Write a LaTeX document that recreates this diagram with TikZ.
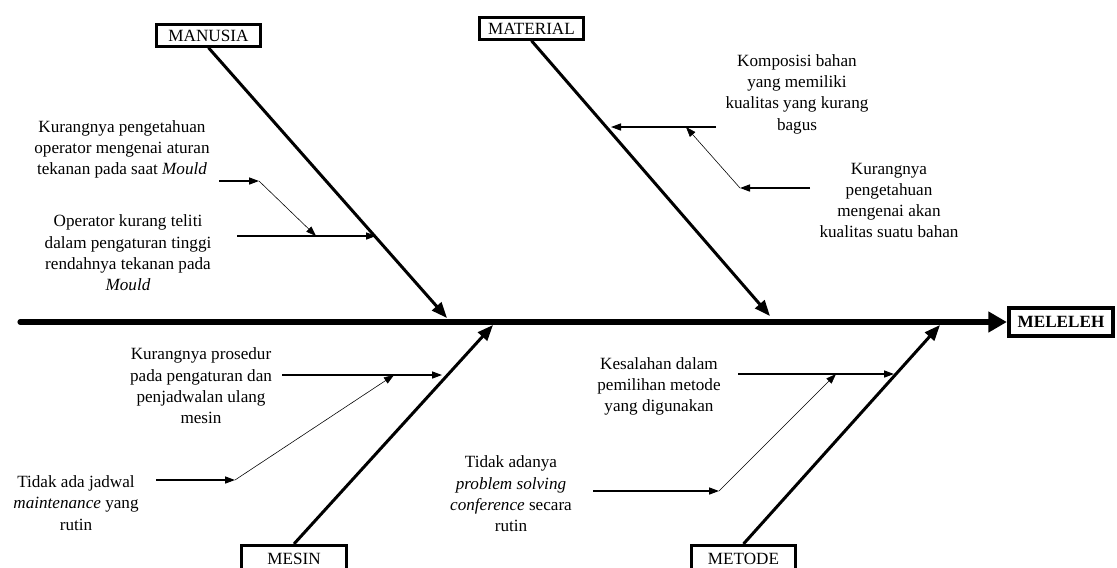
\documentclass[tikz,border=0pt]{standalone}
\usepackage{fontspec}
\setmainfont{Liberation Serif}
\usepackage{tikz}
\usetikzlibrary{positioning,arrows.meta,calc}
\tikzset{
  category/.style = {draw, line width=2.1pt, align=center,
                     minimum width=73pt, minimum height=15pt,
                     font=\fontsize{12}{14}\selectfont, inner sep=0pt},
  lowcat/.style   = {category, minimum height=19pt},
  effect/.style   = {category, line width=2.8pt, minimum height=19pt,
                     font=\fontsize{12}{14}\selectfont\bfseries},
  cause/.style    = {align=center, inner sep=0pt,
                     font=\fontsize{12}{14.9}\selectfont},
  spine/.style    = {line width=3.6pt, line cap=round,
                     -{Triangle[length=13pt,width=14pt]}},
  bone/.style     = {line width=2.1pt, -{Triangle[length=11pt,width=8.5pt]}},
  twig/.style     = {line width=0.75pt, -{Triangle[length=7pt,width=5pt]}},
  subtwig/.style  = {line width=0.4pt, -{Triangle[length=7pt,width=5pt]}}
}

\begin{document}
\begin{tikzpicture}[x=0.7pt, y=-0.7pt]
  \useasboundingbox (0,0) rectangle (1117,567);

  % Head of the fish and the spine.
  \node[effect] (EFF) at (1061,322) {MELELEH};
  \coordinate (TAIL) at (20,322);
  \draw[spine] (TAIL) -- (EFF.west);

  % Category boxes (the lower two run off the bottom edge).
  \node[category] (MAN) at (208.5,35.5) {MANUSIA};
  \node[category] (MAT) at (531.5,28.5) {MATERIAL};
  \node[lowcat]   (MES) at (294,559)    {MESIN};
  \node[lowcat]   (MET) at (743.5,559)  {METODE};

  % Where the bones meet the spine.
  \coordinate (MANtip) at (447,318);
  \coordinate (MATtip) at (770,316);
  \coordinate (MEStip) at (493,325);
  \coordinate (METtip) at (940,325);

  \draw[bone] (MAN.south) -- (MANtip);
  \draw[bone] (MAT.south) -- (MATtip);
  \draw[bone] (MES.north) -- (MEStip);
  \draw[bone] (MET.north) -- (METtip);

  % MANUSIA causes.
  \node[cause] (MAN1) at (122,149.5) {Kurangnya pengetahuan\\operator mengenai aturan\\tekanan pada saat \textit{Mould}};
  \node[cause] (MAN2) at (128,253)   {Operator kurang teliti\\dalam pengaturan tinggi\\rendahnya tekanan pada\\\textit{Mould}};
  \coordinate (MAN1a) at (219,181);
  \coordinate (MAN1b) at (259,181);
  \coordinate (MAN2a) at (237,236);
  \coordinate (MAN2b) at (316,236);
  \coordinate (MAN2c) at (376,236);
  \draw[twig]    (MAN2a) -- (MAN2c);
  \draw[twig]    (MAN1a) -- (MAN1b);
  \draw[subtwig] (MAN1b) -- (MAN2b);

  % MATERIAL causes.
  \node[cause] (MAT1) at (797,94)    {Komposisi bahan\\yang memiliki\\kualitas yang kurang\\bagus};
  \node[cause] (MAT2) at (889,200.5) {Kurangnya\\pengetahuan\\mengenai akan\\kualitas suatu bahan};
  \coordinate (MAT1a) at (716,127);
  \coordinate (MAT1b) at (686,127);
  \coordinate (MAT1c) at (611,127);
  \coordinate (MAT2a) at (810,188);
  \coordinate (MAT2b) at (740,188);
  \draw[twig]    (MAT1a) -- (MAT1c);
  \draw[twig]    (MAT2a) -- (MAT2b);
  \draw[subtwig] (MAT2b) -- (MAT1b);

  % MESIN causes.
  \node[cause] (MES1) at (201,386) {Kurangnya prosedur\\pada pengaturan dan\\penjadwalan ulang\\mesin};
  \node[cause] (MES2) at (76,503)  {Tidak ada jadwal\\\textit{maintenance} yang\\rutin};
  \coordinate (MES1a) at (282,375);
  \coordinate (MES1b) at (394,375);
  \coordinate (MES1c) at (442,375);
  \coordinate (MES2a) at (156,480);
  \coordinate (MES2b) at (235,480);
  \draw[twig]    (MES1a) -- (MES1c);
  \draw[twig]    (MES2a) -- (MES2b);
  \draw[subtwig] (MES2b) -- (MES1b);

  % METODE causes.
  \node[cause] (MET1) at (659,386.5) {Kesalahan dalam\\pemilihan metode\\yang digunakan};
  \node[cause] (MET2) at (511,494)   {Tidak adanya\\\textit{problem solving}\\\textit{conference} secara\\rutin};
  \coordinate (MET1a) at (738,374);
  \coordinate (MET1b) at (836,374);
  \coordinate (MET1c) at (894,374);
  \coordinate (MET2a) at (593,491);
  \coordinate (MET2b) at (719,491);
  \draw[twig]    (MET1a) -- (MET1c);
  \draw[twig]    (MET2a) -- (MET2b);
  \draw[subtwig] (MET2b) -- (MET1b);

\end{tikzpicture}
\end{document}
